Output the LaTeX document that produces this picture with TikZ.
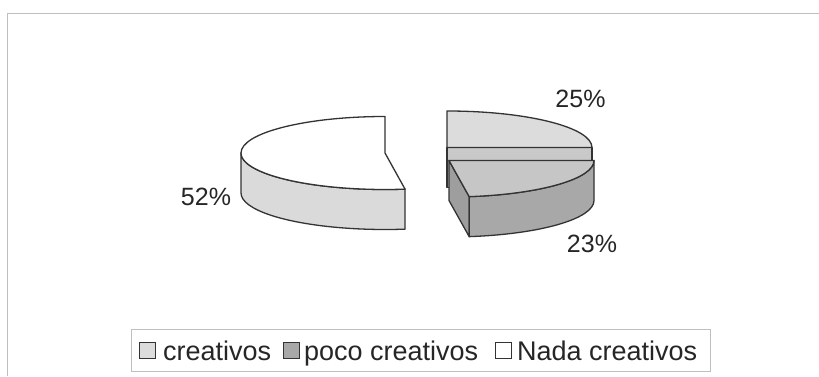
\documentclass[tikz,border=0pt]{standalone}
\usepackage{fontspec}
\setmainfont{Liberation Sans}
\usetikzlibrary{calc}
\begin{document}
\begin{tikzpicture}[x=1pt,y=1pt,
  edge/.style={draw=black!80,line width=1.3pt,line join=round},
  lbl/.style={font=\fontsize{25}{30}\selectfont,text=black!85,inner sep=0pt,anchor=base},
  legtxt/.style={font=\fontsize{27}{32}\selectfont,text=black!85,inner sep=0pt,anchor=base west},
  legmark/.style={draw=black!80,line width=1.3pt,minimum width=16pt,minimum height=16pt,inner sep=0pt,anchor=south west}]
\definecolor{cA}{HTML}{DCDCDC}
\definecolor{cAf}{HTML}{C9C9C9}
\definecolor{cBs}{HTML}{DADADA}
\definecolor{cCt}{HTML}{C6C6C6}
\definecolor{cCs}{HTML}{A8A8A8}
\definecolor{cCr}{HTML}{9E9E9E}
\useasboundingbox (0,0) rectangle (819,376);
\fill[white] (0,0) rectangle (819,376);
% outer frame (right and bottom edges lie outside the view)
\draw[black!25,line width=1pt] (7.5,0) -- (7.5,362.5) -- (819,362.5);
% --- 25% slice (back) ---
\coordinate (c3) at (447,228.5);
\fill[cAf] (c3) rectangle (592,188.5);
\draw[edge] (c3) rectangle (592,188.5);
\filldraw[edge,fill=cA] (c3) -- (592,228.5) arc[start angle=0,end angle=90,x radius=145,y radius=36.5] -- cycle;
% --- 52% slice (left) ---
\coordinate (c1) at (385,223);
\filldraw[edge,fill=cBs] (241,223) arc[start angle=180,end angle=278,x radius=144,y radius=36.5]
   -- ++(0,-40) arc[start angle=278,end angle=180,x radius=144,y radius=36.5] -- cycle;
\filldraw[edge,fill=white] (c1) -- (385,259.5) arc[start angle=90,end angle=278,x radius=144,y radius=36.5] -- cycle;
% --- 23% slice (front) ---
\coordinate (c2) at (449,215.5);
\coordinate (p2) at (469.18,179.36);
\filldraw[edge,fill=cCr] (c2) -- (p2) -- ++(0,-40) -- ($(c2)+(0,-40)$) -- cycle;
\filldraw[edge,fill=cCs] (p2) arc[start angle=278,end angle=360,x radius=145,y radius=36.5]
   -- ++(0,-40) arc[start angle=360,end angle=278,x radius=145,y radius=36.5] -- cycle;
\filldraw[edge,fill=cCt] (c2) -- (594,215.5) arc[start angle=0,end angle=-82,x radius=145,y radius=36.5] -- cycle;
% labels
\node[lbl] (l25) at (580.5,269) {25\%};
\node[lbl] (l52) at (206,171) {52\%};
\node[lbl] (l23) at (592,124) {23\%};
% legend
\node[draw=black!25,line width=1pt,minimum width=579pt,minimum height=42pt,inner sep=0pt,anchor=south west] (leg) at (131,4) {};
\node[legmark,fill=cA] (m1) at (138.5,17) {};
\node[legtxt] (t1) at (163,16) {creativos};
\node[legmark,fill=cCs] (m2) at (282.5,17) {};
\node[legtxt] (t2) at (304,16) {poco creativos};
\node[legmark,fill=white] (m3) at (494.5,17) {};
\node[legtxt] (t3) at (517,16) {Nada creativos};
\end{tikzpicture}
\end{document}
